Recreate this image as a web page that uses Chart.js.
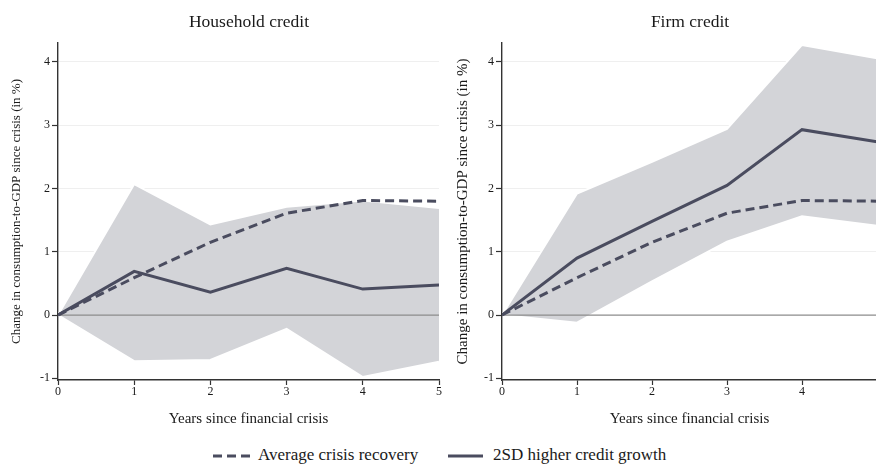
<!DOCTYPE html>
<html><head><meta charset="utf-8">
<script src="https://cdn.jsdelivr.net/npm/chart.js@4/dist/chart.umd.min.js"></script>
<style>
html,body{margin:0;padding:0;background:#fff;width:876px;height:466px;overflow:hidden;position:relative;font-family:"Liberation Serif","Times New Roman",serif;color:#1a1a1a}
.c{position:absolute;top:0}
#wl{left:0;width:444px;height:432px}
#wr{left:440px;width:440px;height:432px}
.title{position:absolute;top:11px;font-size:17.5px;line-height:20px;white-space:nowrap;transform:translateX(-50%)}
.legend{position:absolute;top:445px;font-size:17px;line-height:20px;white-space:nowrap}
svg{position:absolute}
</style></head><body>
<div class="c" id="wl"><canvas id="cl" width="444" height="432"></canvas></div>
<div class="c" id="wr"><canvas id="cr" width="440" height="432"></canvas></div>
<div class="title" id="tl" style="left:249px">Household credit</div>
<div class="title" id="tr" style="left:690px">Firm credit</div>
<svg style="left:210px;top:451px" width="42" height="10"><line x1="3" y1="5" x2="40" y2="5" stroke="#4a4c5f" stroke-width="3.2" stroke-dasharray="9,5"/></svg>
<div class="legend" id="lg1" style="left:258px">Average crisis recovery</div>
<svg style="left:446px;top:451px" width="40" height="10"><line x1="2" y1="5" x2="37" y2="5" stroke="#4a4c5f" stroke-width="3.2"/></svg>
<div class="legend" id="lg2" style="left:493px">2SD higher credit growth</div>
<script>
const years = [0, 1, 2, 3, 4, 5];
const yTickValues = [-1, 0, 1, 2, 3, 4];
const hhAverage = [0, 0.59, 1.15, 1.61, 1.81, 1.80];
const hhHigher  = [0, 0.69, 0.36, 0.74, 0.41, 0.475];
const hhUpper   = [0, 2.07, 1.43, 1.71, 1.81, 1.69];
const hhLower   = [0, -0.73, -0.71, -0.22, -0.98, -0.74];
const firmAverage = [0, 0.59, 1.15, 1.61, 1.81, 1.80];
const firmHigher  = [0, 0.90, 1.48, 2.05, 2.93, 2.74];
const firmUpper   = [0, 1.92, 2.42, 2.94, 4.27, 4.06];
const firmLower   = [0, -0.12, 0.53, 1.16, 1.56, 1.41];
const yTitle = 'Change in consumption-to-GDP since crisis (in %)';
const xTitle = 'Years since financial crisis';

const LINE = '#4a4c5f';
const BAND = '#d3d4d8';
const FONT = '"Liberation Serif", "Times New Roman", serif';

const pts = arr => arr.map((v, i) => ({x: years[i], y: v}));

const zeroLine = {
  id: 'zeroLine',
  beforeDatasetDraw(chart, args) {
    if (args.index !== 1) return;
    const ctx = chart.ctx, a = chart.chartArea;
    const y = chart.scales.y.getPixelForValue(0);
    ctx.save();
    ctx.strokeStyle = '#8c8c8c';
    ctx.lineWidth = 1.2;
    ctx.beginPath(); ctx.moveTo(a.left, y); ctx.lineTo(a.right, y); ctx.stroke();
    ctx.restore();
  }
};

function makeChart(id, avg, hi, up, lo, yW, yFont, yPad, padRight, visibleWidth) {
  return new Chart(document.getElementById(id), {
    type: 'line',
    data: {
      datasets: [
        {label: '2SD higher credit growth', data: pts(hi), borderColor: LINE, borderWidth: 3, pointRadius: 0, fill: false},
        {label: 'Average crisis recovery', data: pts(avg), borderColor: LINE, borderWidth: 3, borderDash: [9, 5], pointRadius: 0, fill: false},
        {label: 'upper', data: pts(up), borderColor: '#ffffff', borderWidth: 2, backgroundColor: BAND, pointRadius: 0, fill: '+1'},
        {label: 'lower', data: pts(lo), borderColor: '#ffffff', borderWidth: 2, pointRadius: 0, fill: false}
      ]
    },
    options: {
      responsive: false,
      animation: false,
      layout: {padding: {top: 43, left: 0, right: padRight, bottom: 0}},
      plugins: {legend: {display: false}, tooltip: {enabled: false}, filler: {drawTime: 'beforeDatasetsDraw'}},
      scales: {
        x: {
          type: 'linear', min: 0, max: 5,
          afterFit: s => { s.height = 52; },
          afterBuildTicks: s => { s.ticks = years.map(v => ({value: v})); },
          grid: {drawOnChartArea: false, tickLength: 5, tickColor: '#333', tickWidth: 1.2},
          border: {color: '#333', width: 1.4},
          ticks: {
            padding: 0, font: {family: FONT, size: 12}, maxRotation: 0,
            color: c => (c.chart.scales.x.getPixelForValue(c.tick.value) + 4 > visibleWidth) ? 'rgba(0,0,0,0)' : '#1a1a1a'
          },
          title: {display: true, text: xTitle, color: '#1a1a1a', font: {family: FONT, size: 15}, padding: {top: 4, bottom: 4}}
        },
        y: {
          min: -1.027, max: 4.30,
          afterFit: s => { s.width = yW; },
          afterBuildTicks: s => { s.ticks = yTickValues.map(v => ({value: v})); },
          grid: {
            color: c => (c.tick && c.tick.value > 0) ? '#efefef' : 'rgba(0,0,0,0)',
            lineWidth: 1, tickLength: 6, tickColor: '#333', tickWidth: 1.2
          },
          border: {color: '#333', width: 1.4},
          ticks: {padding: 2, color: '#1a1a1a', font: {family: FONT, size: 12}},
          title: {display: true, text: yTitle, color: '#1a1a1a', font: {family: FONT, size: yFont}, padding: {top: yPad, bottom: 0}}
        }
      }
    },
    plugins: [zeroLine]
  });
}

makeChart('cl', hhAverage, hhHigher, hhUpper, hhLower, 58, 13, 9, 5, 9999);
makeChart('cr', firmAverage, firmHigher, firmUpper, firmLower, 62, 15, 14, 2, 436);
</script>
</body></html>
